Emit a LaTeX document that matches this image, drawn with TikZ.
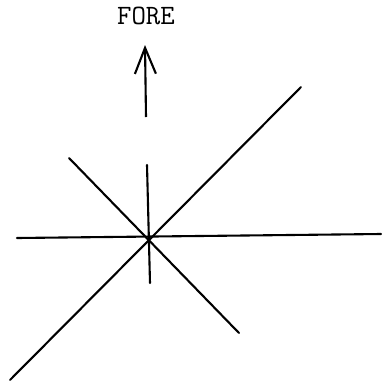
\documentclass[tikz,border=0pt]{standalone}
\usetikzlibrary{arrows.meta}
\tikzset{
  axis/.style={line width=2.1pt, line cap=round},
  heading/.style={-{Straight Barb[length=26pt, width=21pt, line width=2.1pt]}, line width=2.1pt},
  fore/.style={font=\fontsize{28}{30}\selectfont\ttfamily, inner sep=0pt, anchor=base},
}
\begin{document}
\begin{tikzpicture}[x=1pt, y=-1pt]
  \useasboundingbox (0,0) rectangle (382,384);

  % ends of the spokes
  \coordinate (c) at (149,239);
  \coordinate (n) at (147,165);
  \coordinate (s) at (150,283);
  \coordinate (w) at (17,238);
  \coordinate (e) at (381,234);
  \coordinate (ne) at (301,87);
  \coordinate (sw) at (10,380);
  \coordinate (nw) at (69,158);
  \coordinate (se) at (239,333);

  \draw[axis] (w) -- (e);
  \draw[axis] (n) -- (s);
  \draw[axis] (sw) -- (ne);
  \draw[axis] (nw) -- (se);

  % heading arrow
  \node[fore] (label) at (146,24) {FORE};
  \coordinate (tail) at (146,117);
  \coordinate (tip) at (145,45);
  \draw[heading] (tail) -- (tip);
\end{tikzpicture}
\end{document}
